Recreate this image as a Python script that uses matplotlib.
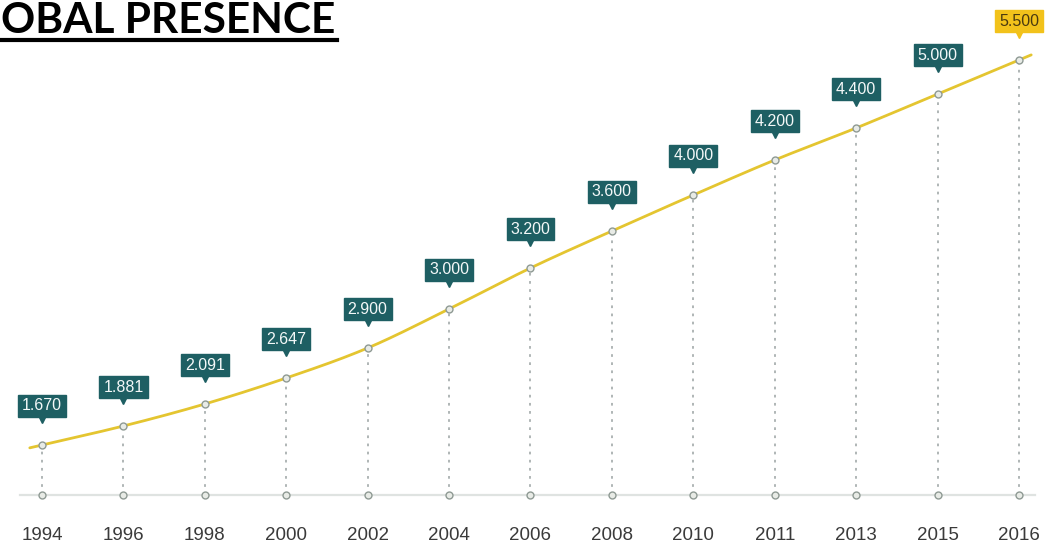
import numpy as np
import matplotlib
matplotlib.use("Agg")
import matplotlib.pyplot as plt
from matplotlib.lines import Line2D

# ---- data ----
years = ["1994", "1996", "1998", "2000", "2002", "2004", "2006",
         "2008", "2010", "2011", "2013", "2015", "2016"]
value_labels = ["1.670", "1.881", "2.091", "2.647", "2.900", "3.000", "3.200",
                "3.600", "4.000", "4.200", "4.400", "5.000", "5.500"]
# level of the drawn curve above the baseline (arbitrary units, as drawn)
curve_level = [50, 69, 91, 117, 147, 186, 227, 264, 300, 335, 367, 401, 435]
title_text = "OBAL PRESENCE"

TEAL = "#1e5f63"
YELLOW_BOX = "#f2c21b"
LINE_YELLOW = "#e4c530"

fig = plt.figure(figsize=(10.52, 5.47), dpi=100)
ax = fig.add_axes([0, 0, 1, 1])
W, H = 1052, 547
px_per_unit = (1019 - 42) / 12.0
ax.set_xlim(-42 / px_per_unit, 12 + (W - 1019) / px_per_unit)
ax.set_ylim(-52, H - 52)
ax.axis("off")

x = np.arange(len(years), dtype=float)
y = np.array(curve_level, dtype=float)

# smooth Catmull-Rom curve through the points
def catmull_rom(px, py, n=30):
    P = np.column_stack([px, py])
    P = np.vstack([2 * P[0] - P[1], P, 2 * P[-1] - P[-2]])
    out = []
    for i in range(1, len(P) - 2):
        p0, p1, p2, p3 = P[i - 1], P[i], P[i + 1], P[i + 2]
        t = np.linspace(0, 1, n, endpoint=False)[:, None]
        c = 0.5 * ((2 * p1) + (-p0 + p2) * t + (2 * p0 - 5 * p1 + 4 * p2 - p3) * t ** 2
                   + (-p0 + 3 * p1 - 3 * p2 + p3) * t ** 3)
        out.append(c)
    out.append(P[-2][None, :])
    return np.vstack(out)

curve = catmull_rom(x, y)
e = 0.15
start = np.array([x[0] - e, y[0] - e * (y[1] - y[0])])
end = np.array([x[-1] + e, y[-1] + e * (y[-1] - y[-2])])
curve = np.vstack([start, curve, end])

# baseline
ax.plot([x[0] - 0.27, x[-1] + 0.2], [0, 0], color="#dfe3e1", lw=1.6, zorder=1)

# dotted drop lines
for xi, yi in zip(x, y):
    ax.plot([xi, xi], [0, yi], color="#a9b0b0", lw=1.3, ls=(0, (1.5, 3)), zorder=2)

ax.plot(curve[:, 0], curve[:, 1], color=LINE_YELLOW, lw=2.0, zorder=3,
        solid_capstyle="round")

# markers on curve and baseline
ax.plot(x, y, "o", ms=5, mfc="#e8ebe6", mec="#8f9a94", mew=1.0, zorder=4)
ax.plot(x, np.zeros_like(x), "o", ms=5, mfc="#e8ebe6", mec="#8f9a94", mew=1.0, zorder=4)

# value labels
for i, (xi, yi, lab) in enumerate(zip(x, y, value_labels)):
    last = i == len(x) - 1
    fc = YELLOW_BOX if last else TEAL
    tc = "#4a3a10" if last else "#f4f8f8"
    ax.annotate(lab, xy=(xi, yi), xytext=(0, 39), textcoords="offset pixels",
                ha="center", va="center", fontsize=11.5, color=tc,
                family="Liberation Sans", zorder=6,
                bbox=dict(boxstyle="square,pad=0.25", fc=fc, ec=fc))
    ax.plot([xi], [yi + 25], marker="v", ms=4, color=fc, mec=fc, zorder=5)

# x tick labels
for xi, yr in zip(x, years):
    ax.text(xi, -40, yr, ha="center", va="center", fontsize=13.5,
            color="#3a3a3a", family="Liberation Sans")

# cropped title, sized to the reference width
t = fig.text(1 / W, 1 - 33 / H, title_text, ha="left", va="baseline",
             fontsize=30, fontweight="bold", family="Lato", color="black")
fig.canvas.draw()
w = t.get_window_extent(renderer=fig.canvas.get_renderer()).width
t.set_fontsize(30 * 334 / w)
fig.add_artist(Line2D([0, 337 / W], [1 - 39.5 / H, 1 - 39.5 / H],
                      color="black", lw=3, transform=fig.transFigure))

fig.savefig("out.png", dpi=100)
